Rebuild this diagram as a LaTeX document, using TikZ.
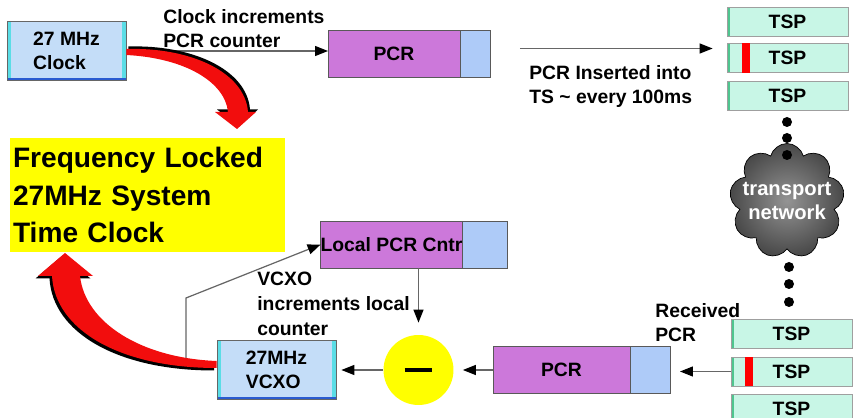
\documentclass[tikz,border=0pt]{standalone}
\usepackage{fontspec}
\setmainfont{Liberation Sans}
\usetikzlibrary{arrows.meta,positioning,shapes.symbols}

\definecolor{oscblue}{HTML}{C4DDF8}
\definecolor{oscedge}{HTML}{5ADDE6}
\definecolor{oscbase}{HTML}{2A5BD0}
\definecolor{pcrpurple}{HTML}{CC78DA}
\definecolor{pcrtail}{HTML}{AECBF8}
\definecolor{tspmint}{HTML}{C8F6E6}
\definecolor{tspedge}{HTML}{4FC58F}
\definecolor{lockyellow}{HTML}{FFFF00}
\definecolor{fatred}{HTML}{F20D0D}

\begin{document}
\begin{tikzpicture}[
    x=0.02cm, y=-0.02cm,
    lbl/.style={font=\bfseries\fontsize{11}{14}\selectfont},
    txt/.style={lbl, align=left, anchor=north west, inner sep=0pt},
    osc/.style={rectangle, draw=gray!80!black, fill=oscblue, minimum width=2.38cm, minimum height=1.18cm, align=left, lbl,
        path picture={
            \fill[oscedge] (path picture bounding box.south west) rectangle ([xshift=0.08cm]path picture bounding box.north west);
            \fill[oscedge] (path picture bounding box.south east) rectangle ([xshift=-0.08cm]path picture bounding box.north east);
            \fill[oscbase] (path picture bounding box.south west) rectangle ([yshift=0.05cm]path picture bounding box.south east);
        }},
    counter/.style={rectangle, draw=gray!70!black, fill=pcrpurple, minimum height=0.94cm, inner xsep=0pt, outer sep=0pt, lbl},
    countertail/.style={rectangle, draw=gray!70!black, fill=pcrtail, minimum height=0.94cm, inner sep=0pt, outer sep=0pt},
    tsp/.style={rectangle, draw=gray!75, fill=tspmint, minimum width=2.42cm, minimum height=0.58cm, inner sep=0pt, lbl,
        path picture={
            \fill[tspedge] (path picture bounding box.south west) rectangle ([xshift=0.05cm]path picture bounding box.north west);
        }},
    arrow/.style={-{Triangle[length=0.26cm,width=0.2cm,color=black]}, draw=black!60, line width=0.7pt},
    fatarrow/.style={fill=fatred, preaction={fill=black, transform canvas={shift={#1}}}}
]
\useasboundingbox (0,0) rectangle (853,418);

% Sender side: clock drives the PCR counter
\node[osc] (clock) at (66.5,51) {27 MHz\\Clock};
\node[counter, minimum width=2.64cm] (pcr) at (394,53.5) {PCR};
\node[countertail, minimum width=0.6cm, right=0pt of pcr] (pcr_tail) {};
\node[txt] (inc_lbl) at (163,9) {Clock increments\\PCR counter};
\node[txt] (ins_lbl) at (529,65) {PCR Inserted into\\TS \textasciitilde{} every 100ms};

% Transport stream packets, top
\node[tsp] (tsp1) at (787.5,21.5) {TSP};
\node[tsp] (tsp2) at (787.5,58) {TSP};
\node[tsp] (tsp3) at (787.5,96) {TSP};
\fill[red] ([xshift=0.3cm]tsp2.north west) rectangle ([xshift=0.46cm]tsp2.south west);

% Network cloud
\node[cloud, cloud puffs=9, cloud ignores aspect, draw=black, inner color=black!42, outer color=black!72,
    inner sep=-3pt, minimum width=2.3cm, minimum height=2.3cm, text=white, align=center,
    font=\bfseries\fontsize{11.5}{14}\selectfont] (net) at (787,201) {transport\\network};
\fill (787,122) circle (5);
\fill (787,138) circle (5);
\fill (787,155) circle (5);
\fill (789,267) circle (5);
\fill (789,284) circle (5);
\fill (789,302) circle (5);

% Transport stream packets, bottom
\node[tsp] (tsp4) at (791.5,333.5) {TSP};
\node[tsp] (tsp5) at (791.5,371.5) {TSP};
\node[tsp] (tsp6) at (791.5,409) {TSP};
\fill[red] ([xshift=0.28cm]tsp5.north west) rectangle ([xshift=0.44cm]tsp5.south west);
\node[txt] (rcv_lbl) at (655,303) {Received\\PCR};

% Receiver side
\node[counter, minimum width=2.74cm] (rpcr) at (561.5,370) {PCR};
\node[countertail, minimum width=0.8cm, right=0pt of rpcr] (rpcr_tail) {};
\node[circle, fill=lockyellow, minimum size=1.4cm, inner sep=0pt] (diff) at (418.5,370) {\rule{0.56cm}{0.09cm}};
\node[osc] (vcxo) at (276.5,370) {27MHz\\VCXO};
\node[counter, minimum width=2.74cm] (lpcr) at (391.5,244.5) {Local PCR Cntr};
\node[countertail, minimum width=0.9cm, right=0pt of lpcr] (lpcr_tail) {};
\node[txt] (vcxo_lbl) at (257,272) {VCXO\\increments local\\counter};

% Locked system clock
\node[fill=lockyellow, minimum width=5.5cm, minimum height=2.28cm, text width=5.38cm, inner xsep=0.06cm,
    align=left, font=\bfseries\fontsize{16}{21.5}\selectfont] (freq) at (147.5,195)
    {Frequency Locked\\27MHz System\\Time Clock};

% Connectors
\draw[arrow] (clock.east) -- (clock.east -| pcr.west);
\draw[arrow, shorten <=0.6cm, shorten >=0.28cm] ([yshift=0.1cm]pcr_tail.east) -- ([yshift=0.1cm]pcr_tail.east -| tsp2.west);
\draw[arrow, shorten >=0.2cm] (tsp5.west) -- (tsp5.west -| rpcr_tail.east);
\draw[arrow, shorten >=0.18cm] (rpcr.west) -- (diff.east);
\draw[arrow, shorten >=0.1cm] (diff.west) -- (vcxo.east);
\draw[arrow, shorten >=0.24cm] (diff.north |- lpcr.south) -- (diff.north);
\coordinate (tap) at (186,362);
\draw[arrow] (tap) -- ++(0,-64) -- (lpcr.west);

% Fat red arrows
\path[fatarrow={(0.04cm,0.05cm)}] ([yshift=0.04cm]clock.east) .. controls (190,47) and (245,72) .. (248,112)
    -- (256,112) -- (237,129) -- (215,112) -- (228,112)
    .. controls (225,82) and (185,58) .. ([yshift=-0.08cm]clock.east) -- cycle;
\path[fatarrow={(-0.05cm,-0.05cm)}] ([yshift=0.04cm]vcxo.west) .. controls (120,368) and (55,330) .. (52,276)
    -- (38,276) -- (65,253) -- (93,276) -- (80,276)
    .. controls (85,322) and (140,358) .. ([yshift=0.18cm]vcxo.west) -- cycle;

\end{tikzpicture}
\end{document}
